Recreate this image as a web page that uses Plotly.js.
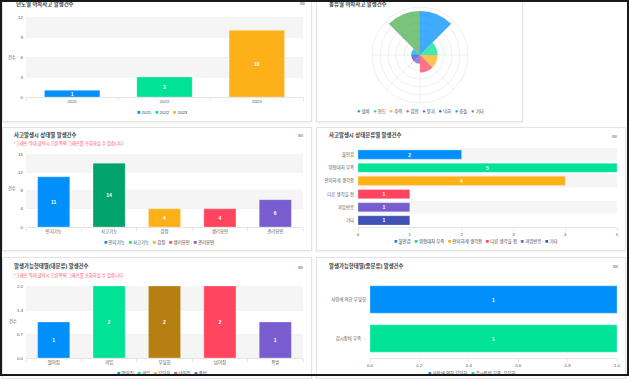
<!DOCTYPE html>
<html><head><meta charset="utf-8">
<script src="https://cdn.plot.ly/plotly-3.0.1.min.js"></script>
<style>
html,body{margin:0;padding:0;background:#fff;}
#page{position:relative;width:629px;height:379px;overflow:hidden;background:#fff;}
.card{position:absolute;background:#fff;border:1px solid #e3e3e3;box-sizing:border-box;box-shadow:0 1px 2px rgba(0,0,0,0.07);}
.chart{position:absolute;}
#frame{position:absolute;left:0;top:0;width:629px;height:376px;border:2px solid #1a1a1a;box-sizing:border-box;pointer-events:none;z-index:10;}
</style></head><body>
<div id="page">
  <div class="card" style="left:2px;top:-2px;width:310px;height:124px;"></div>
  <div class="card" style="left:316px;top:-2px;width:207px;height:124px;"></div>
  <div class="card" style="left:2px;top:127px;width:310px;height:124px;"></div>
  <div class="card" style="left:316px;top:127px;width:310px;height:124px;"></div>
  <div class="card" style="left:2px;top:257px;width:310px;height:122px;"></div>
  <div class="card" style="left:316px;top:257px;width:310px;height:122px;"></div>
  <div id="c1" class="chart" style="left:2px;top:0px;"></div>
  <div id="c2" class="chart" style="left:317px;top:0px;"></div>
  <div id="c3" class="chart" style="left:2px;top:127px;"></div>
  <div id="c4" class="chart" style="left:317px;top:127px;"></div>
  <div id="c5" class="chart" style="left:2px;top:257px;"></div>
  <div id="c6" class="chart" style="left:317px;top:257px;"></div>
  <div id="frame"></div>
</div>
<script>
// ---------- DATA ----------
const years = ['2021', '2022', '2023'];
const yearCounts = [1, 3, 10];
const yearTicks = [0, 3, 6, 9, 12];

const workTypes = ['설비', '전도', '추락', '감전', '붕괴', '낙하', '충돌', '기타'];
const workTypeCounts = [5, 2, 2, 2, 1, 1, 1, 5];

const stateCats = ['인지기능', '사고기능', '감정', '생리요인', '관리요인'];
const stateCounts = [11, 14, 4, 4, 6];
const stateTicks = [0, 4, 8, 12, 16];

const stateClassCats = ['불안감', '위험대처 부족', '안이하게 생각함', '다른 생각을 함', '과잉반응', '기타'];
const stateClassCounts = [2, 5, 4, 1, 1, 1];
const stateClassTicks = [0, 1, 2, 3, 4, 5];

const majorCats = ['떨어짐', '끼임', '부딪힘', '넘어짐', '폭발'];
const majorCounts = [1, 2, 2, 2, 1];
const majorTickLabels = ['0.0', '0.7', '1.3', '2.0'];

const minorCats = ['사람에 의한 부딪힘', '감시장비 부족, 부딪힘'];
const minorTickLabels = ['사람에 의한 부딪힘', '감시장비 부족 ...'];
const minorCounts = [1, 1];
const minorTicks = [0, 0.2, 0.4, 0.6, 0.8, 1.0];
const minorTickText = ['0.0', '0.2', '0.4', '0.6', '0.8', '1.0'];

const palette = ['#008FFB', '#00E396', '#FEB019', '#FF4560', '#775DD0', '#3F51B5', '#03A9F4', '#4CAF50'];
const subtitleText = '*그래프 막대 클릭시 오른쪽의 그래프를 조회하실 수 있습니다.';

// ---------- HELPERS ----------
const FONT = "'Liberation Sans', 'Noto Sans CJK KR', sans-serif";
const NB = '\u00A0';
function darken(hex, f) {
  const n = parseInt(hex.slice(1), 16);
  const r = Math.round(((n >> 16) & 255) * f), g = Math.round(((n >> 8) & 255) * f), b = Math.round((n & 255) * f);
  return 'rgb(' + r + ',' + g + ',' + b + ')';
}
function legendText(labels, colors, glyph, gsize) {
  return labels.map((l, i) => "<span style='color:" + colors[i] + ";font-size:" + gsize + "px'>" + glyph + "</span>" + NB + l).join(NB + NB + NB);
}
function conv(o) {
  const pw = o.W - o.l - o.r, ph = o.H - o.t - o.b;
  return {x: px => (px - o.l) / pw, y: py => 1 - (py - o.t) / ph};
}
function commonAnn(o, c) {
  const a = [];
  a.push({xref: 'paper', yref: 'paper', x: c.x(o.title[1]), y: c.y(o.title[2]), xanchor: 'left', yanchor: 'middle',
    text: o.title[0], showarrow: false, font: {family: FONT, size: 5.4, color: '#373d3f', weight: 'bold'}});
  if (o.sub) a.push({xref: 'paper', yref: 'paper', x: c.x(o.sub[0]), y: c.y(o.sub[1]), xanchor: 'left', yanchor: 'middle',
    text: subtitleText, showarrow: false, font: {family: FONT, size: 4.3, color: '#ff4560'}});
  if (o.menu) a.push({xref: 'paper', yref: 'paper', x: c.x(o.menu[0]), y: c.y(o.menu[1]), xanchor: 'center', yanchor: 'middle',
    text: '≡', showarrow: false, font: {family: 'DejaVu Sans', size: 8, color: '#8596a4'}});
  if (o.ylab) a.push({xref: 'paper', yref: 'paper', x: c.x(o.ylab[0]), y: c.y(o.ylab[1]), xanchor: 'center', yanchor: 'middle',
    text: '건수', showarrow: false, font: {family: FONT, size: 4.2, color: '#555'}});
  if (o.leg) a.push({xref: 'paper', yref: 'paper', x: c.x(o.leg[0]), y: c.y(o.leg[1]), xanchor: 'center', yanchor: 'middle',
    text: legendText(o.cats, o.legColors, o.glyph || '■', o.gsize || 5.5), showarrow: false, font: {family: FONT, size: 4.4, color: '#373d3f'}});
  return a;
}
const cfg = {staticPlot: true, displayModeBar: false};

function barChart(id, o) {
  const c = conv(o);
  const horiz = !!o.horizontal;
  const traces = o.cats.map((cat, i) => {
    const t = {type: 'bar', name: cat, marker: {color: o.colors[i], line: {color: 'rgba(255,255,255,0.35)', width: 0.8}},
      text: [String(o.vals[i])], textposition: 'inside', insidetextanchor: 'middle', constraintext: 'none', textangle: 0,
      textfont: {family: FONT, size: 5, color: '#ffffff', weight: 'bold'}, width: o.barw, showlegend: false, hoverinfo: 'skip'};
    if (horiz) { t.orientation = 'h'; t.y = [cat]; t.x = [o.vals[i]]; } else { t.x = [cat]; t.y = [o.vals[i]]; }
    return t;
  });
  const shapes = [];
  if (!horiz) {
    const tk = o.valTicks;
    for (let k = tk.length - 1; k >= 1; k -= 2) {
      shapes.push({type: 'rect', xref: 'paper', yref: 'y', x0: 0, x1: 1, y0: tk[k - 1], y1: tk[k], fillcolor: '#f5f5f5', line: {width: 0}, layer: 'below'});
    }
  } else if (o.rowBands) {
    o.cats.forEach((cat, i) => { if (i % 2 === 0) shapes.push({type: 'rect', xref: 'paper', yref: 'y', x0: 0, x1: 1, y0: i - 0.5, y1: i + 0.5, fillcolor: '#f5f5f5', line: {width: 0}, layer: 'below'}); });
  }
  const catAxis = {type: 'category', categoryarray: o.cats, categoryorder: 'array', showgrid: false, zeroline: false,
    tickfont: {family: FONT, size: 4.4, color: '#555'}, fixedrange: true};
  const valAxis = {range: o.range, tickvals: o.valTicks, ticktext: o.valText, showgrid: true, gridcolor: '#eeeeee', gridwidth: 0.6,
    zeroline: false, tickfont: {family: FONT, size: 4.4, color: '#555'}, fixedrange: true};
  let xaxis, yaxis;
  if (!horiz) {
    xaxis = Object.assign({}, catAxis, {showline: true, linecolor: '#dedede', linewidth: 0.8, ticks: 'outside', tickson: 'boundaries', ticklen: 3, tickcolor: '#dedede', tickwidth: 0.8});
    yaxis = Object.assign({}, valAxis, {ticks: '', ticklabelstandoff: 2});
  } else {
    yaxis = Object.assign({}, catAxis, {autorange: 'reversed', ticks: '', ticklabelstandoff: 3, tickvals: o.cats, ticktext: o.catText || o.cats});
    xaxis = Object.assign({}, valAxis, {showgrid: false, showline: true, linecolor: '#dedede', linewidth: 0.8, ticks: 'outside', ticklen: 3, tickcolor: '#dedede', tickwidth: 0.8});
  }
  const layout = {width: o.W, height: o.H, margin: {l: o.l, r: o.r, t: o.t, b: o.b}, paper_bgcolor: 'rgba(0,0,0,0)', plot_bgcolor: 'rgba(0,0,0,0)',
    barmode: 'overlay', xaxis: xaxis, yaxis: yaxis, shapes: shapes, annotations: commonAnn(o, c), showlegend: false, font: {family: FONT}};
  Plotly.newPlot(id, traces, layout, cfg);
}

// ---------- CHART 1 ----------
barChart('c1', {W: 309, H: 121, l: 24, r: 8, t: 17, b: 24, cats: years, vals: yearCounts, colors: palette.slice(0, 3), legColors: palette.slice(0, 3),
  barw: 0.6, range: [0, 12], valTicks: yearTicks, valText: yearTicks.map(String),
  title: ['년도별 아차사고 발생건수', 12, 4], menu: [300, 4], ylab: [10, 57], leg: [160, 112]});

// ---------- CHART 2 (polar) ----------
(function () {
  const W = 205, H = 121, cx = 103, cy = 55, R = 48;
  const rMax = 5.45, rings = [1, 2, 3, 4, 5, 6].map(k => k * rMax / 6);
  const traces = workTypes.map((w, i) => ({type: 'barpolar', name: w, r: [workTypeCounts[i]], theta: [i * 45 + 22.5], width: [45],
    marker: {color: palette[i], opacity: 0.75, line: {width: 0}}, showlegend: false, hoverinfo: 'skip'}));
  const o = {W: W, H: H, l: 0, r: 0, t: 0, b: 0, cats: workTypes, legColors: palette, glyph: '●', gsize: 5.5,
    title: ['종류별 아차사고 발생건수', 10, 4], leg: [103, 111]};
  const c = conv(o);
  const layout = {width: W, height: H, margin: {l: 0, r: 0, t: 0, b: 0}, paper_bgcolor: 'rgba(0,0,0,0)', showlegend: false,
    polar: {domain: {x: [(cx - R) / W, (cx + R) / W], y: [1 - (cy + R) / H, 1 - (cy - R) / H]}, bgcolor: 'rgba(0,0,0,0)', hole: 0,
      angularaxis: {rotation: 90, direction: 'clockwise', dtick: 45, showticklabels: false, ticks: '', gridcolor: '#e8e8e8', gridwidth: 0.7,
        showline: true, linecolor: '#e8e8e8', linewidth: 0.7, layer: 'below traces'},
      radialaxis: {range: [0, rMax], tickvals: rings, showticklabels: false, ticks: '', gridcolor: '#e8e8e8', gridwidth: 0.7, showline: false, layer: 'below traces'}},
    annotations: commonAnn(o, c)};
  Plotly.newPlot('c2', traces, layout, cfg);
})();

// ---------- CHART 3 ----------
const c3Colors = palette.slice(0, 5).map((col, i) => i === 1 ? darken(col, 0.72) : col);
barChart('c3', {W: 309, H: 123, l: 24, r: 8, t: 27, b: 23, cats: stateCats, vals: stateCounts, colors: c3Colors, legColors: palette.slice(0, 5),
  barw: 0.58, range: [0, 16], valTicks: stateTicks, valText: stateTicks.map(String),
  title: ['사고발생시 상태별 발생건수', 10, 8], sub: [10, 17], menu: [298, 9], ylab: [10, 61], leg: [157, 115]});

// ---------- CHART 4 ----------
barChart('c4', {W: 309, H: 123, l: 41, r: 9, t: 21, b: 23, horizontal: true, rowBands: true, cats: stateClassCats, vals: stateClassCounts,
  colors: palette.slice(0, 6), legColors: palette.slice(0, 6), barw: 0.7, range: [0, 5], valTicks: stateClassTicks, valText: stateClassTicks.map(String),
  title: ['사고발생시 상태분류별 발생건수', 10, 8], menu: [297, 9], leg: [159, 115]});

// ---------- CHART 5 ----------
const c5Colors = palette.slice(0, 5).map((col, i) => i === 2 ? darken(col, 0.72) : col);
const c5Max = 2;
barChart('c5', {W: 309, H: 118, l: 24, r: 8, t: 29, b: 17, cats: majorCats, vals: majorCounts, colors: c5Colors, legColors: palette.slice(0, 5),
  barw: 0.58, range: [0, c5Max], valTicks: majorTickLabels.map((s, k) => k * c5Max / (majorTickLabels.length - 1)), valText: majorTickLabels,
  title: ['발생가능형태별(대분류) 발생건수', 10, 9], sub: [10, 18], menu: [298, 10], ylab: [11, 64], leg: [160, 116]});

// ---------- CHART 6 ----------
barChart('c6', {W: 309, H: 118, l: 53, r: 9, t: 23, b: 17, horizontal: true, cats: minorCats, catText: minorTickLabels, vals: minorCounts,
  colors: palette.slice(0, 2), legColors: palette.slice(0, 2), barw: 0.7, range: [0, 1], valTicks: minorTicks, valText: minorTickText,
  title: ['발생가능형태별(중분류) 발생건수', 10, 9], menu: [298, 10], leg: [155, 116]});
</script>
</body></html>
